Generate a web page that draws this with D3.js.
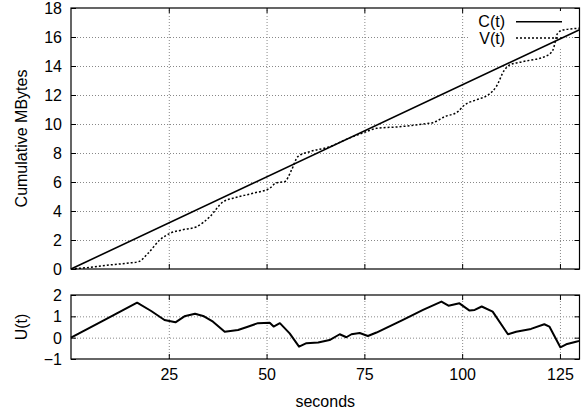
<!DOCTYPE html>
<html>
<head>
<meta charset="utf-8">
<script src="https://cdn.jsdelivr.net/npm/d3@7"></script>
<style>
  body { margin: 0; background: #fff; }
  text { font-family: "Liberation Sans", Arial, sans-serif; font-size: 16px; fill: #000; }
  .grid line { stroke: #888; stroke-dasharray: 1,2; }
  .grid path { display: none; }
  .ax path { display: none; }
  .ax line { stroke: #000; }
</style>
</head>
<body>
<div class="main"></div>
<script>
const w = 587;
const h = 414;

// V(t): cumulative MBytes received (dotted)
const vTime = [0, 5, 10, 15, 17.2, 19.7, 22.7, 25.3, 28.3, 32.1, 35.5, 38.9, 41.4, 46.5, 50.8, 52.5, 54.6, 56.4, 58, 61, 66.1, 70, 75.5, 78.1, 84, 90, 92.5, 95.5, 98.9, 100.6, 103.6, 106.6, 108.7, 110.8, 112.1, 115.5, 121.5, 123.2, 124.4, 125.7, 130];
const vMB = [0, 0.12, 0.28, 0.42, 0.5, 1.08, 2.0, 2.46, 2.69, 2.92, 3.61, 4.64, 4.88, 5.22, 5.57, 5.95, 6.02, 6.83, 7.75, 8.09, 8.43, 8.9, 9.47, 9.7, 9.81, 10.0, 10.09, 10.5, 10.85, 11.31, 11.66, 12.0, 12.57, 13.72, 14.07, 14.3, 14.69, 15.1, 16.25, 16.48, 16.6];

// C(t): constant rate line
const cTime = [0, 130];
const cMB = [0, 16.5];

// U(t)
const uTime = [0, 8, 16.9, 20.5, 23.9, 26.7, 29, 31.7, 34, 36.3, 39.3, 42.7, 45, 47.8, 50.8, 51.8, 53.4, 55.9, 58.3, 60.2, 63.2, 66.1, 68.7, 70.4, 71.7, 73.8, 75.9, 78.1, 85, 90, 94.7, 96.5, 99.3, 101.9, 103.2, 105, 107.8, 111.7, 113.8, 117.6, 121, 122.3, 125.1, 126.6, 129.1, 130];
const uVal = [0, 0.78, 1.64, 1.25, 0.83, 0.72, 1.0, 1.12, 1.0, 0.75, 0.28, 0.36, 0.5, 0.68, 0.7, 0.52, 0.68, 0.2, -0.42, -0.26, -0.23, -0.11, 0.16, 0.02, 0.16, 0.22, 0.08, 0.24, 0.85, 1.3, 1.69, 1.5, 1.61, 1.27, 1.3, 1.46, 1.22, 0.16, 0.28, 0.41, 0.63, 0.52, -0.45, -0.31, -0.19, -0.15];

const xTicks = [25, 50, 75, 100, 125];
const topTicks = [0, 2, 4, 6, 8, 10, 12, 14, 16, 18];
const botTicks = [-1, 0, 1, 2];

const svg = d3.select('.main').append('svg').attr('width', w).attr('height', h);

const left = 71;
const right = 579.5;

const x = d3.scaleLinear().domain([0, 130]).range([left, right]);
const yTop = d3.scaleLinear().domain([0, 18]).range([269, 8]);
const yBot = d3.scaleLinear().domain([-1, 2]).range([359, 295]);

function panel(y, yTicks, gridY, showX) {
  const g = svg.append('g');
  const top = y.range()[1];
  const bottom = y.range()[0];
  const pw = right - left;
  const ph = bottom - top;

  // grid
  g.append('g').attr('class', 'grid')
    .attr('transform', `translate(0,${bottom})`)
    .call(d3.axisBottom(x).tickValues(xTicks).tickSize(-ph).tickFormat(''));
  g.append('g').attr('class', 'grid')
    .attr('transform', `translate(${left},0)`)
    .call(d3.axisLeft(y).tickValues(gridY).tickSize(-pw).tickFormat(''));

  // inward ticks on all four sides
  g.append('g').attr('class', 'ax')
    .attr('transform', `translate(0,${bottom})`)
    .call(d3.axisBottom(x).tickValues(xTicks).tickSize(-5).tickPadding(18)
      .tickFormat(showX ? d3.format('d') : ''));
  g.append('g').attr('class', 'ax')
    .attr('transform', `translate(0,${top})`)
    .call(d3.axisTop(x).tickValues(xTicks).tickSize(-5).tickFormat(''));
  g.append('g').attr('class', 'ax')
    .attr('transform', `translate(${left},0)`)
    .call(d3.axisLeft(y).tickValues(yTicks).tickSize(-5).tickPadding(9).tickFormat(d3.format('d')));
  g.append('g').attr('class', 'ax')
    .attr('transform', `translate(${right},0)`)
    .call(d3.axisRight(y).tickValues(yTicks).tickSize(-5).tickFormat(''));

  g.append('rect')
    .attr('x', left).attr('y', top).attr('width', pw).attr('height', ph)
    .attr('fill', 'none').attr('stroke', '#000').attr('stroke-width', 1.2);
  return g;
}

const gTop = panel(yTop, topTicks, [2, 4, 6, 8, 10, 12, 14, 16], false);
const gBot = panel(yBot, botTicks, [0, 1], true);

svg.selectAll('.ax .tick text').attr('dy', '0.34em');
svg.selectAll('.ax .tick text').filter(function () {
  return this.parentNode.parentNode.getAttribute('class') === 'ax' &&
    this.getAttribute('y') !== null && +this.getAttribute('y') > 0;
}).attr('dy', '0.71em').attr('y', 10);

// legend background
gTop.append('rect').attr('x', 470).attr('y', 11).attr('width', 95).attr('height', 36)
  .attr('fill', '#fff');

const lineV = d3.line().x(i => x(vTime[i])).y(i => yTop(vMB[i])).curve(d3.curveMonotoneX);
const lineC = d3.line().x(i => x(cTime[i])).y(i => yTop(cMB[i]));
const lineU = d3.line().x(i => x(uTime[i])).y(i => yBot(uVal[i]));

gTop.append('path').attr('d', lineC(d3.range(cTime.length)))
  .attr('fill', 'none').attr('stroke', '#000').attr('stroke-width', 1.6);
gTop.append('path').attr('d', lineV(d3.range(vTime.length)))
  .attr('fill', 'none').attr('stroke', '#000').attr('stroke-width', 1.5)
  .attr('stroke-dasharray', '2,2');
gBot.append('path').attr('d', lineU(d3.range(uTime.length)))
  .attr('fill', 'none').attr('stroke', '#000').attr('stroke-width', 2)
  .attr('stroke-linejoin', 'round');

// legend
const legend = [
  { label: 'C(t)', dash: null, y: 21.7 },
  { label: 'V(t)', dash: '2,2', y: 38 }
];
legend.forEach(function (d) {
  gTop.append('text').attr('x', 505).attr('y', d.y).attr('dy', '0.35em')
    .attr('text-anchor', 'end').text(d.label);
  gTop.append('line').attr('x1', 516).attr('x2', 562).attr('y1', d.y).attr('y2', d.y)
    .attr('stroke', '#000').attr('stroke-width', d.dash ? 1.5 : 1.6)
    .attr('stroke-dasharray', d.dash);
});

// axis titles
svg.append('text').attr('transform', 'translate(27,138.5) rotate(-90)')
  .attr('text-anchor', 'middle').text('Cumulative MBytes');
svg.append('text').attr('transform', 'translate(27,327) rotate(-90)')
  .attr('text-anchor', 'middle').text('U(t)');
svg.append('text').attr('x', (left + right) / 2).attr('y', 406.5)
  .attr('text-anchor', 'middle').text('seconds');
</script>
</body>
</html>
